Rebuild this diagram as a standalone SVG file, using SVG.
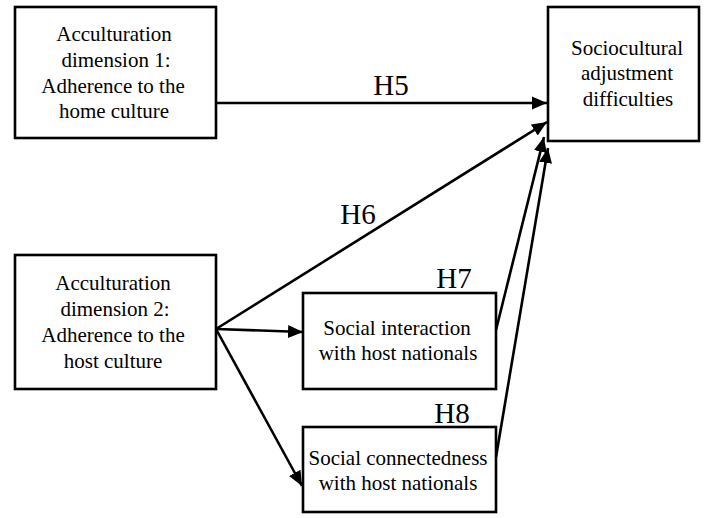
<svg xmlns="http://www.w3.org/2000/svg" width="706" height="518" viewBox="0 0 706 518">
<style>
.box{fill:#fff;stroke:#000;stroke-width:2.6}
.t{font-family:"Liberation Serif","Times New Roman",serif;font-size:21px;fill:#000;text-anchor:middle}
.h{font-family:"Liberation Serif","Times New Roman",serif;font-size:29px;fill:#000;text-anchor:middle}
.c{stroke:#000;stroke-width:2.6;fill:none;marker-end:url(#ah)}
</style>
<defs>
<marker id="ah" markerUnits="userSpaceOnUse" markerWidth="16" markerHeight="14" refX="15" refY="7" orient="auto" viewBox="0 0 16 14">
<path d="M0,0.5 L15,7 L0,13.5 Z" fill="#000"/>
</marker>
</defs>
<rect width="706" height="518" fill="#fff"/>
<g id="n1">
<rect class="box" x="15" y="7" width="201" height="131"/>
<text class="t" x="114" y="41">Acculturation</text>
<text class="t" x="116" y="67">dimension 1:</text>
<text class="t" x="113" y="93">Adherence to the</text>
<text class="t" x="114" y="118">home culture</text>
</g>
<g id="n2">
<rect class="box" x="15" y="255" width="201" height="134"/>
<text class="t" x="113" y="290">Acculturation</text>
<text class="t" x="115" y="316">dimension 2:</text>
<text class="t" x="113" y="342">Adherence to the</text>
<text class="t" x="113" y="368">host culture</text>
</g>
<g id="n3">
<rect class="box" x="548" y="7" width="151" height="134"/>
<text class="t" x="627" y="55">Sociocultural</text>
<text class="t" x="627" y="80">adjustment</text>
<text class="t" x="628" y="106">difficulties</text>
</g>
<g id="n4">
<rect class="box" x="303" y="293" width="193" height="96"/>
<text class="t" x="397" y="335">Social interaction</text>
<text class="t" x="398" y="360">with host nationals</text>
</g>
<g id="n5">
<rect class="box" x="303" y="427" width="193" height="85"/>
<text class="t" x="398" y="465">Social connectedness</text>
<text class="t" x="398" y="490">with host nationals</text>
</g>
<g id="connectors">
<line class="c" x1="216" y1="103" x2="547" y2="103"/>
<line class="c" x1="216" y1="329" x2="547" y2="122"/>
<line class="c" x1="216" y1="329" x2="303" y2="332"/>
<line class="c" x1="216" y1="329" x2="302" y2="486"/>
<line class="c" x1="496" y1="330" x2="544" y2="137"/>
<line class="c" x1="496" y1="457" x2="548" y2="148"/>
</g>
<g id="labels">
<text class="h" x="391" y="95">H5</text>
<text class="h" x="358" y="224">H6</text>
<text class="h" x="454" y="288">H7</text>
<text class="h" x="452" y="423">H8</text>
</g>
</svg>
